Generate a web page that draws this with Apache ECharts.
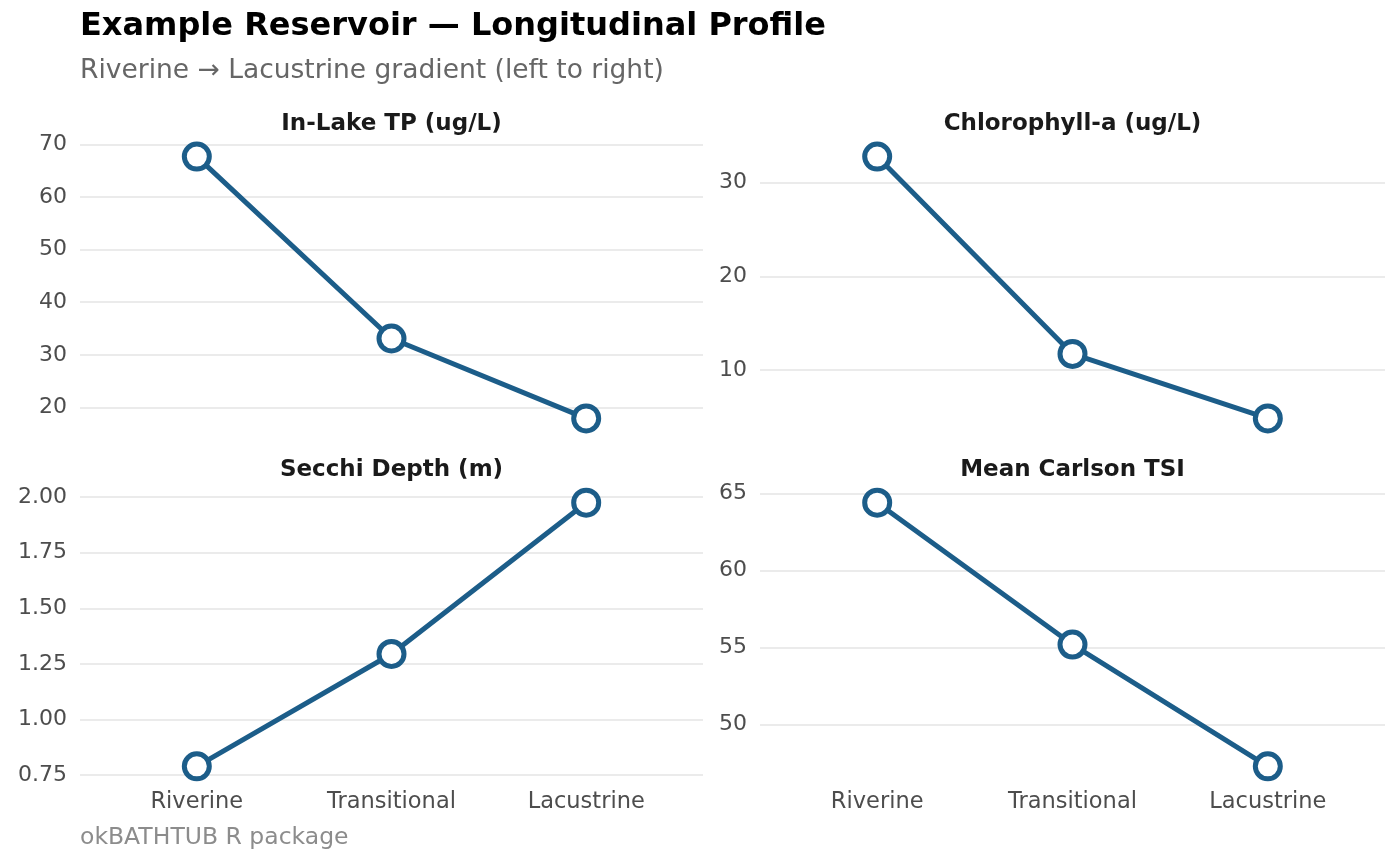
<!DOCTYPE html>
<html>
<head>
<meta charset="utf-8">
<script src="https://cdn.jsdelivr.net/npm/echarts@6/dist/echarts.min.js"></script>
<style>
  html, body { margin: 0; padding: 0; background: #fff; }
  #chart { width: 1400px; height: 866px; }
</style>
</head>
<body>
<div id="chart"></div>
<script>
(function() {
  var stages = ['Riverine', 'Transitional', 'Lacustrine'];

  var tpValues = [67.7, 33.1, 17.9];
  var chlValues = [32.8, 11.7, 4.8];
  var secchiValues = [0.79, 1.295, 1.975];
  var tsiValues = [64.4, 55.2, 47.3];

  var tpTicks = [20, 30, 40, 50, 60, 70];
  var chlTicks = [10, 20, 30];
  var secchiTicks = [0.75, 1.00, 1.25, 1.50, 1.75, 2.00];
  var tsiTicks = [50, 55, 60, 65];

  var panelTitles = ['In-Lake TP (ug/L)', 'Chlorophyll-a (ug/L)', 'Secchi Depth (m)', 'Mean Carlson TSI'];

  var font = 'DejaVu Sans';
  var blue = '#1c5d89';
  var grey = '#4d4d4d';

  // facet panels, ggplot-like layout
  var grids = [
    { left: 80, top: 143.5, width: 623, height: 288 },
    { left: 760, top: 143.5, width: 625, height: 288 },
    { left: 80, top: 489.5, width: 623, height: 290 },
    { left: 760, top: 489.5, width: 625, height: 290 }
  ];

  var panels = [
    { values: tpValues, ticks: tpTicks, digits: 0 },
    { values: chlValues, ticks: chlTicks, digits: 0 },
    { values: secchiValues, ticks: secchiTicks, digits: 2 },
    { values: tsiValues, ticks: tsiTicks, digits: 0 }
  ];

  // 5% expansion like ggplot's default continuous scale
  function padMin(v) { return v.min - 0.05 * (v.max - v.min); }
  function padMax(v) { return v.max + 0.05 * (v.max - v.min); }

  var xAxes = panels.map(function(p, i) {
    return {
      type: 'value',
      gridIndex: i,
      min: -0.6,
      max: 2.6,
      axisLine: { show: false },
      axisTick: { show: false, customValues: [0, 1, 2] },
      splitLine: { show: false },
      axisLabel: {
        show: i >= 2,
        customValues: [0, 1, 2],
        formatter: function(v) { return stages[Math.round(v)]; },
        color: grey,
        fontFamily: font,
        fontSize: 22.5,
        margin: 11
      }
    };
  });

  var yAxes = panels.map(function(p, i) {
    return {
      type: 'value',
      gridIndex: i,
      min: padMin,
      max: padMax,
      axisLine: { show: false },
      axisTick: { show: false, customValues: p.ticks },
      splitLine: { show: true, lineStyle: { color: '#ebebeb', width: 2 } },
      axisLabel: {
        customValues: p.ticks,
        formatter: function(v) { return v.toFixed(p.digits); },
        color: grey,
        fontFamily: font,
        fontSize: 22,
        margin: 13
      }
    };
  });

  var series = panels.map(function(p, i) {
    return {
      type: 'line',
      xAxisIndex: i,
      yAxisIndex: i,
      data: p.values.map(function(v, k) { return [k, v]; }),
      symbol: 'circle',
      symbolSize: 25,
      showAllSymbol: true,
      lineStyle: { color: blue, width: 5 },
      itemStyle: { color: '#fff', borderColor: blue, borderWidth: 5 },
      emphasis: { disabled: true },
      animation: false
    };
  });

  var texts = [
    { text: 'Example Reservoir — Longitudinal Profile', x: 80, y: 27, size: 32, weight: 'bold', fill: '#000', align: 'left' },
    { text: 'Riverine → Lacustrine gradient (left to right)', x: 80, y: 71, size: 26.5, weight: 'normal', fill: '#666666', align: 'left' },
    { text: 'okBATHTUB R package', x: 80, y: 838, size: 23.5, weight: 'normal', fill: '#8c8c8c', align: 'left' }
  ];
  panelTitles.forEach(function(t, i) {
    var g = grids[i];
    texts.push({ text: t, x: g.left + g.width / 2, y: g.top - 19.5, size: 23, weight: 'bold', fill: '#1a1a1a', align: 'center' });
  });

  var chart = echarts.init(document.getElementById('chart'), null, { renderer: 'canvas' });
  chart.setOption({
    backgroundColor: '#fff',
    animation: false,
    grid: grids,
    xAxis: xAxes,
    yAxis: yAxes,
    series: series,
    graphic: texts.map(function(t) {
      return {
        type: 'text',
        x: t.x,
        y: t.y,
        style: {
          text: t.text,
          fill: t.fill,
          font: t.weight + ' ' + t.size + 'px "' + font + '"',
          align: t.align,
          verticalAlign: 'middle'
        }
      };
    })
  });
  window.addEventListener('resize', function() { chart.resize(); });
})();
</script>
</body>
</html>
